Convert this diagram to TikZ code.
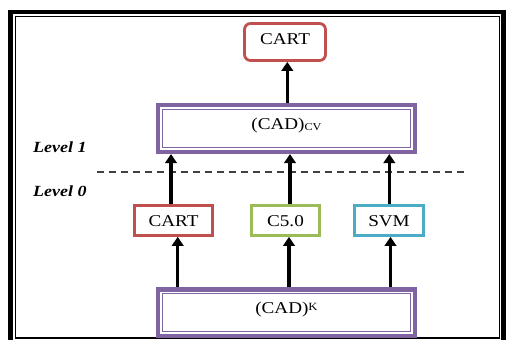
\documentclass[tikz,border=0pt]{standalone}
\usepackage{fontspec}
\setmainfont{Liberation Serif}[FakeStretch=1.16]
\usetikzlibrary{arrows.meta,calc}
\definecolor{boxred}{HTML}{C0504D}
\definecolor{boxgreen}{HTML}{9BBB59}
\definecolor{boxblue}{HTML}{4BACC6}
\definecolor{boxpurple}{HTML}{8064A2}
\definecolor{dashgray}{HTML}{404040}

\begin{document}
\begin{tikzpicture}[x=1pt,y=-1pt,
  every node/.style={inner sep=0pt, font=\fontsize{16.5}{18}\selectfont},
  algo/.style={draw, line width=2.7pt, minimum height=30pt, text height=11pt, text depth=0pt},
  stack/.style={draw=boxpurple, line width=4.5pt, minimum width=256.6pt, minimum height=46.6pt,
                text height=11pt, text depth=8.5pt},
  innerline/.style={draw=boxpurple, line width=1.2pt},
  arr/.style={line width=3.2pt, -{Triangle[length=9pt,width=11.5pt]}},
  lvl/.style={anchor=west, font=\fontsize{15.5}{17}\selectfont\bfseries\itshape},
  levelsep/.style={draw=dashgray, line width=1.3pt, dash pattern=on 7pt off 5pt}]

\useasboundingbox (0,0) rectangle (506,340);
\clip (0,0) rectangle (506,340);

% outer frame: thick line with a thin line inside
\draw[line width=4.5pt] (10.5,12) rectangle (503.5,352);
\draw[line width=1.3pt] (15.8,16.8) rectangle (499.8,338);

% meta classifier on top
\node[draw=boxred, line width=2.8pt, rounded corners=6pt, minimum width=81pt,
      minimum height=37pt, text height=11pt, text depth=7pt] (top) at (285,42) {CART};

% level-1 data set
\node[stack] (cv) at (286.5,128.5)
  {(CAD)\raisebox{-1pt}{\fontsize{10.5}{11}\selectfont CV}};
\draw[innerline] ($(cv.north west)+(6.6,6.6)$) rectangle ($(cv.south east)+(-6.6,-6.6)$);

% base classifiers
\node[algo, draw=boxred,   minimum width=78pt] (c1) at (173.5,220.5) {CART};
\node[algo, draw=boxgreen, minimum width=68pt] (c2) at (285.5,220.5) {C5.0};
\node[algo, draw=boxblue,  minimum width=69pt] (c3) at (389,220.5) {SVM};

% level-0 data set
\node[stack] (k) at (286.5,312.6)
  {(CAD)\raisebox{3pt}{\fontsize{11}{11}\selectfont K}};
\draw[innerline] ($(k.north west)+(6.6,6.6)$) rectangle ($(k.south east)+(-6.6,-6.6)$);

% level labels and separator
\node[lvl] (l1) at (33,147) {Level 1};
\node[lvl] (l0) at (33,191) {Level 0};
\coordinate (dl) at (97,172);
\coordinate (dr) at (465,172);
\draw[levelsep] (dl) -- (dr);

% arrow columns
\coordinate (t)  at (287.3,0);
\coordinate (u1) at (171,0);
\coordinate (u2) at (290,0);
\coordinate (u3) at (389.3,0);
\coordinate (d1) at (177.7,0);
\coordinate (d2) at (289,0);
\coordinate (d3) at (390.5,0);

\draw[arr] (cv.north -| t) -- (top.south -| t);
\draw[arr] (c1.north -| u1) -- (cv.south -| u1);
\draw[arr] (c2.north -| u2) -- (cv.south -| u2);
\draw[arr] (c3.north -| u3) -- (cv.south -| u3);
\draw[arr] (k.north -| d1) -- (c1.south -| d1);
\draw[arr] (k.north -| d2) -- (c2.south -| d2);
\draw[arr] (k.north -| d3) -- (c3.south -| d3);
\end{tikzpicture}
\end{document}
